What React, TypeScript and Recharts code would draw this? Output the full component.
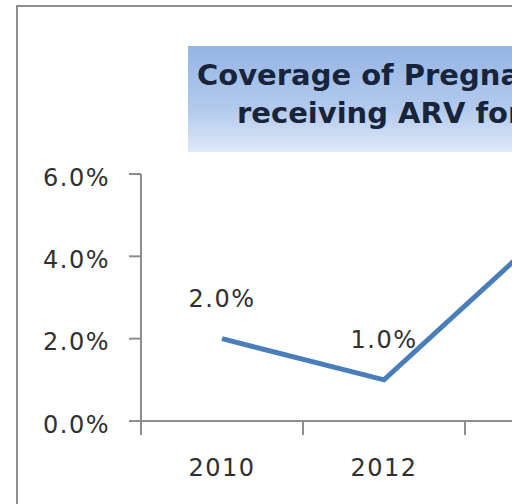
import { LineChart, Line, XAxis, YAxis, LabelList } from 'recharts';

const years = ['2010', '2012', '2014'];
const coverage = [0.02, 0.01, 0.046];
const yTicks = [0, 0.02, 0.04, 0.06];
const titleLines = ['Coverage of Pregnant Women', 'receiving ARV for PMTCT'];

const data = years.map((year, i) => ({ year, pos: i + 0.5, coverage: coverage[i] }));
const boundaryTicks = [...years.map((_, i) => i), years.length];
const centerTicks = data.map((d) => d.pos);

const pct = (v: number) => `${(v * 100).toFixed(1)}%`;

const textStyle = {
    fill: '#303030',
    fontSize: 24,
    fontFamily: 'DejaVu Sans',
    letterSpacing: 1.5,
};

export default function App() {
    return (
        <div
            style={{
                position: 'absolute',
                left: 0,
                top: 0,
                width: 512,
                height: 504,
                overflow: 'hidden',
                background: '#ffffff',
            }}
        >
            {/* chart frame */}
            <div
                style={{
                    position: 'absolute',
                    left: 16,
                    top: 5,
                    width: 700,
                    height: 700,
                    border: '2px solid #8d8d8d',
                }}
            />
            <div style={{ position: 'absolute', left: 0, top: 0 }}>
                <LineChart
                    width={700}
                    height={504}
                    data={data}
                    margin={{ top: 174, right: 73, left: 0, bottom: 0 }}
                >
                    <XAxis
                        dataKey="pos"
                        type="number"
                        domain={[0, years.length]}
                        ticks={boundaryTicks}
                        tickFormatter={() => ''}
                        tickSize={14}
                        height={14}
                        stroke="#8d8d8d"
                        axisLine={{ stroke: '#8d8d8d', strokeWidth: 2 }}
                        tickLine={{ stroke: '#8d8d8d', strokeWidth: 2 }}
                    />
                    <XAxis
                        xAxisId="labels"
                        dataKey="pos"
                        type="number"
                        domain={[0, years.length]}
                        ticks={centerTicks}
                        tickFormatter={(v: number) => years[Math.floor(v)]}
                        tickSize={0}
                        tickMargin={24}
                        height={69}
                        axisLine={false}
                        tickLine={false}
                        tick={textStyle}
                    />
                    <YAxis
                        type="number"
                        domain={[0, 0.06]}
                        ticks={yTicks}
                        tickFormatter={pct}
                        width={141}
                        tickSize={12}
                        tickMargin={19}
                        axisLine={{ stroke: '#8d8d8d', strokeWidth: 2 }}
                        tickLine={{ stroke: '#8d8d8d', strokeWidth: 2 }}
                        tick={{ ...textStyle, dy: 3 }}
                    />
                    <Line
                        dataKey="coverage"
                        stroke="#4a7ebb"
                        strokeWidth={5}
                        dot={false}
                        isAnimationActive={false}
                    >
                        <LabelList
                            dataKey="coverage"
                            position="top"
                            offset={32}
                            formatter={(v: number) => pct(v)}
                            style={textStyle}
                        />
                    </Line>
                </LineChart>
            </div>
            {/* title box */}
            <div
                style={{
                    position: 'absolute',
                    left: 188,
                    top: 46,
                    width: 480,
                    height: 106,
                    background: 'linear-gradient(to bottom, #95b5e4 0%, #b3caed 60%, #dfe9f7 100%)',
                    fontFamily: 'DejaVu Sans',
                    fontWeight: 700,
                    fontSize: 29,
                    color: '#17243a',
                    whiteSpace: 'nowrap',
                }}
            >
                <div style={{ position: 'absolute', left: 9, top: 9, lineHeight: '40px' }}>
                    {titleLines[0]}
                </div>
                <div style={{ position: 'absolute', left: 49, top: 47, lineHeight: '40px' }}>
                    {titleLines[1]}
                </div>
            </div>
        </div>
    );
}
